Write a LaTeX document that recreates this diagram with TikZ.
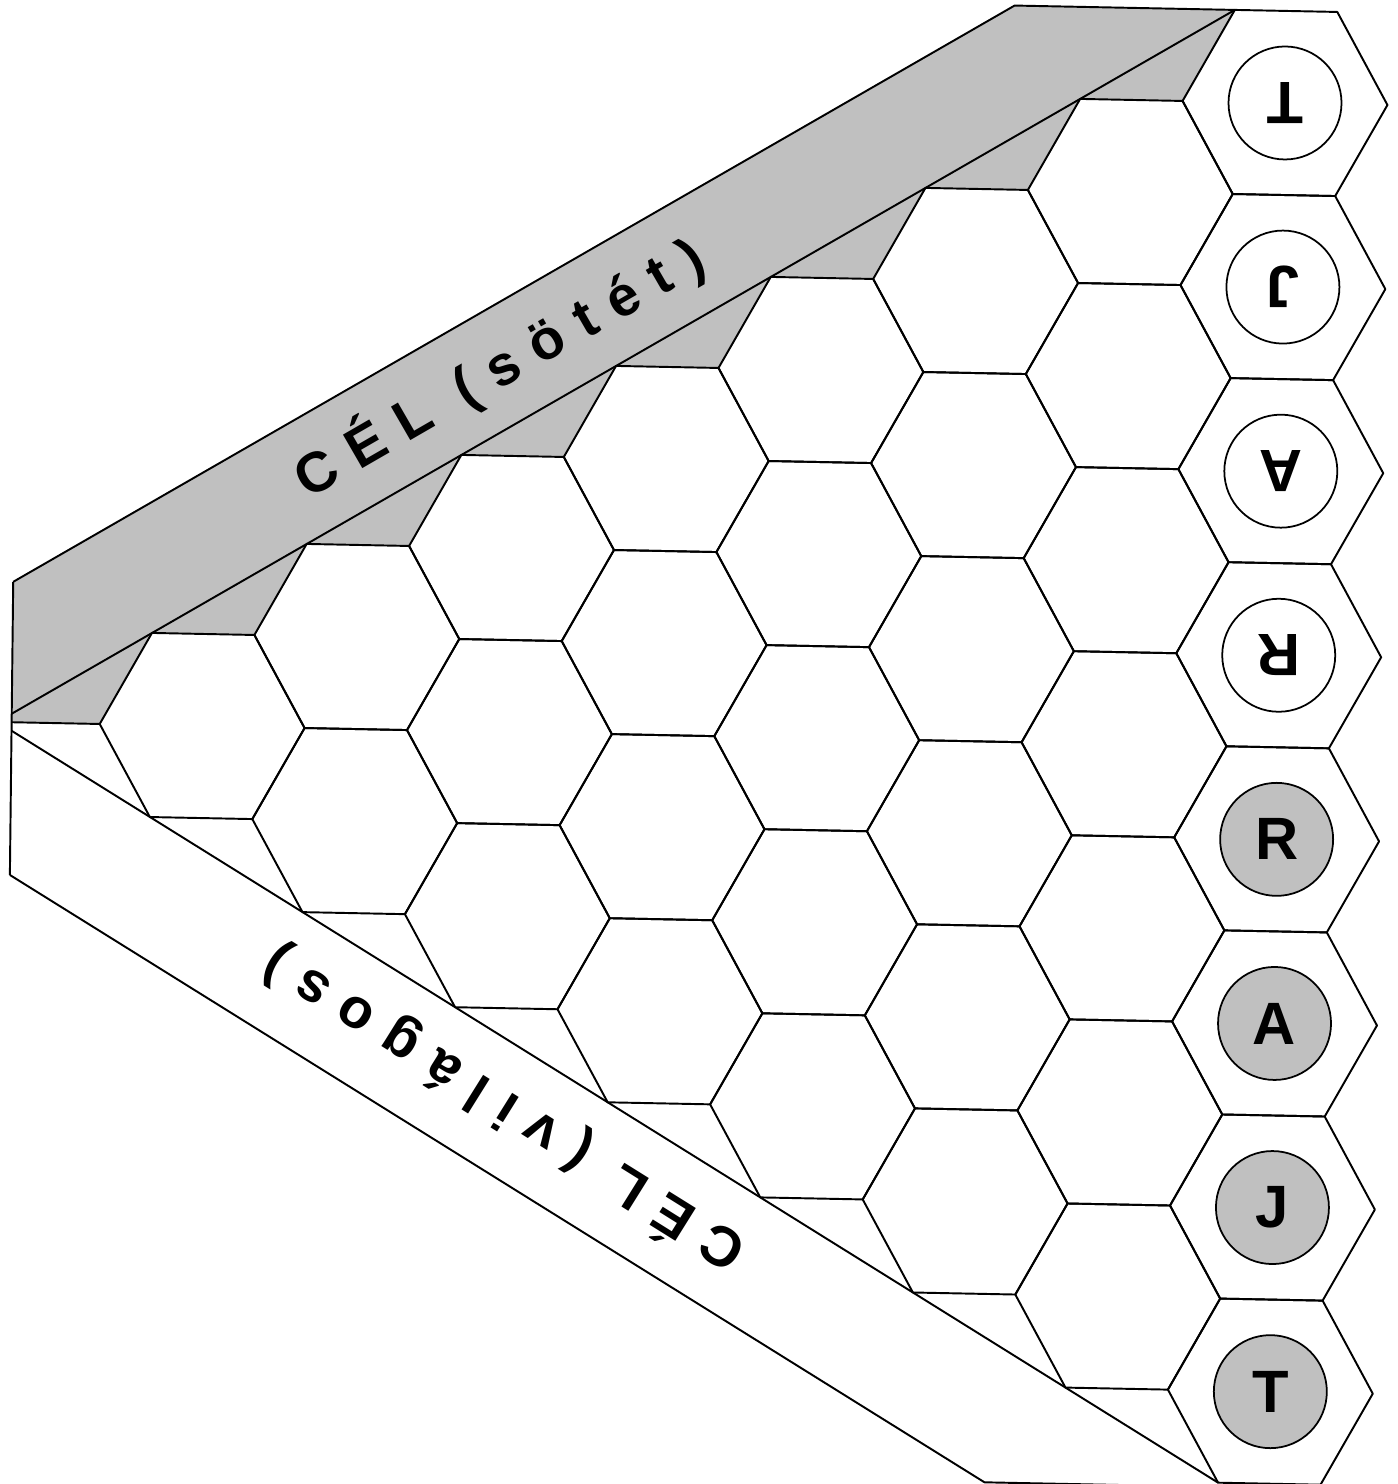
\documentclass[tikz,border=0pt]{standalone}
\usepackage{fontspec}
\setmainfont{Liberation Sans}
\definecolor{ezust}{RGB}{192,192,192}
\tikzset{
  racs/.style={line width=0.55pt},
  korong/.style={circle, draw, line width=0.5pt, minimum size=1.13cm, inner sep=0pt,
    font=\bfseries\fontsize{17}{17}\selectfont},
  cel/.style={font=\bfseries\fontsize{16}{16}\selectfont\addfontfeatures{LetterSpace=32}, inner sep=0pt}
}
\begin{document}
\begin{tikzpicture}
\useasboundingbox (0,0) rectangle (13.97,14.84);
\begin{scope}[shift={(12.85cm,13.81cm)}, x={(1.0243cm,-0.0203cm)}, y={(0.0121cm,1.0629cm)}, line join=round]

% Sötét célsáv
\fill[ezust] (-2.65,0.866) -- (-0.5,0.866)
  \foreach \k in {0,...,6} { -- (-1.5*\k-1,-0.866*\k) -- (-1.5*\k-2,-0.866*\k) }
  -- (-11.5,-6.062) -- (-12.36,-6.062) -- (-12.36,-4.741) -- cycle;

% Mezők
\foreach \k in {0,...,7} {
  \pgfmathtruncatemacro\utolso{7-\k}
  \foreach \j in {0,...,\utolso}
    \draw[racs, shift={(-1.5*\k,-0.866*\k-1.732*\j)}]
      (1,0) -- (0.5,0.866) -- (-0.5,0.866) -- (-1,0) -- (-0.5,-0.866) -- (0.5,-0.866) -- cycle;
}

% Határvonalak
\draw[racs] (-12.36,-4.741) -- (-2.65,0.866) -- (-0.5,0.866);
\draw[racs] (-12.36,-5.982) -- (-0.5,0.866);
\draw[racs] (-12.36,-4.741) -- (-12.36,-7.499);
\draw[racs] (-12.36,-6.062) -- (-11.5,-6.062);
\draw[racs] (-12.36,-6.142) -- (-0.5,-12.99);
\draw[racs] (-12.36,-7.499) -- (-2.78,-13.03) -- (0.5,-13.03);

% Feliratok
\node[cel, rotate=30] (sotet) at (-7.64,-2.636) {CÉL (sötét)};
\node[cel, rotate=148] (vilagos) at (-7.52,-9.615) {CÉL (világos)};

% Korongok
\foreach \b/\n [count=\i from 0] in {T/t1, J/j1, A/a1, R/r1}
  \node[korong, fill=white, rotate=180] (\n) at (0,-1.732*\i) {\b};
\foreach \b/\n [count=\i from 4] in {R/r2, A/a2, J/j2, T/t2}
  \node[korong, fill=ezust] (\n) at (0,-1.732*\i) {\b};

\end{scope}
\end{tikzpicture}
\end{document}
